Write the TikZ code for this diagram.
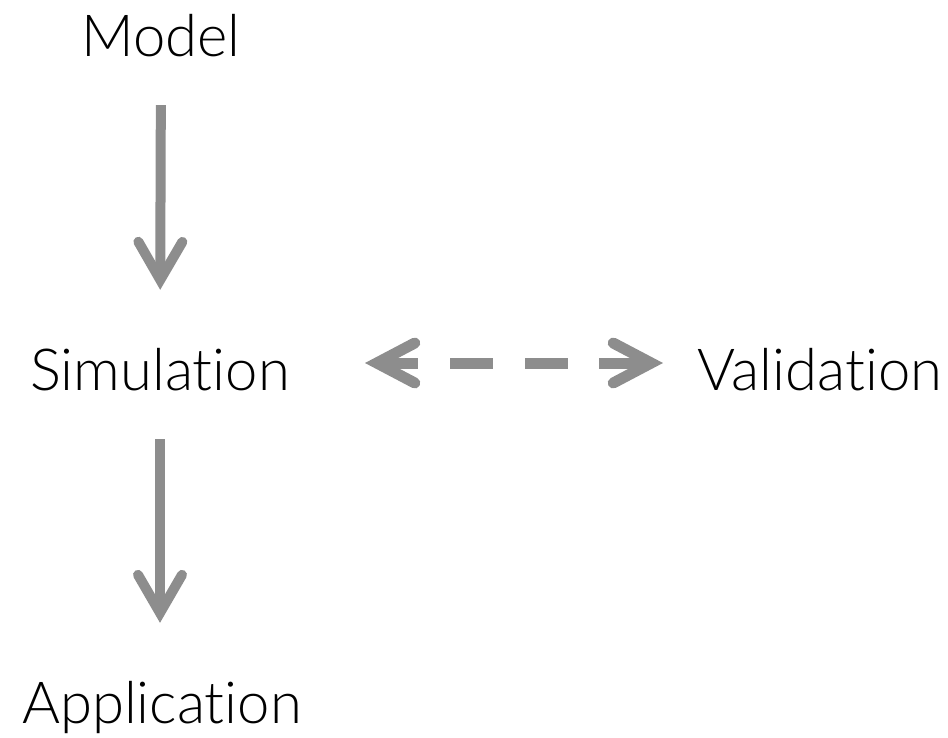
\documentclass[tikz,border=0pt]{standalone}
\usepackage{fontspec}
\setmainfont{Lato}[UprightFont=* Light, Ligatures=NoCommon]
\usetikzlibrary{arrows.meta}
\definecolor{arrowgray}{RGB}{141,141,141}
\tikzset{
  lbl/.style={anchor=base, inner sep=0pt, text height=43pt, text depth=0pt, font=\fontsize{58}{60}\selectfont},
  flow/.style={draw=arrowgray, line width=10pt,
    -{Straight Barb[length=38pt, width=44pt, line cap=round, line join=miter]}},
  link/.style={draw=arrowgray, line width=11pt,
    {Straight Barb[length=38pt, width=40pt, line cap=round, line join=miter]}-{Straight Barb[length=38pt, width=40pt, line cap=round, line join=miter]},
    dash pattern=on 36pt off 32pt on 43pt off 32pt on 43pt off 31pt on 100pt}
}
\begin{document}
\begin{tikzpicture}[x=1pt, y=-1pt]
\useasboundingbox (0,0) rectangle (948,737);
\node[lbl] (model) at (161,56) {Model};
\node[lbl] (sim) at (160,390) {Simulation};
\node[lbl] (val) at (820,390) {Validation};
\node[lbl] (app) at (162,723) {Application};
\draw[flow, shorten <=49pt, shorten >=57pt] (model.south) -- (sim.north);
\draw[flow, shorten <=49pt, shorten >=57pt] (sim.south) -- (app.north -| sim.south);
\draw[link, shorten <=205pt, shorten >=157pt] ([yshift=27pt]sim.base) -- ([yshift=27pt]val.base);
\end{tikzpicture}
\end{document}
